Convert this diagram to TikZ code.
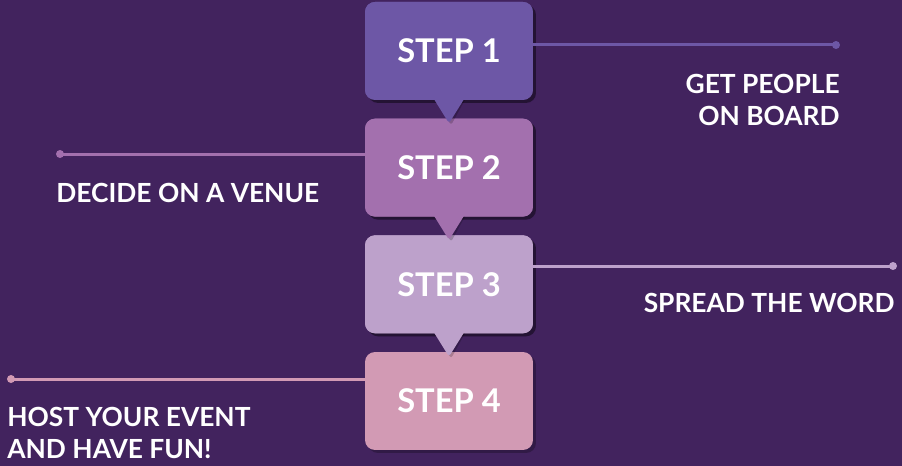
\documentclass[tikz,border=0pt]{standalone}
\usepackage{fontspec}
\setmainfont{Lato}
\usetikzlibrary{positioning,shadows}

\definecolor{bgpurple}{HTML}{42235E}
\definecolor{stepone}{HTML}{6D57A6}
\definecolor{steptwo}{HTML}{A370AE}
\definecolor{stepthree}{HTML}{BDA1CB}
\definecolor{stepfour}{HTML}{D29AB4}

\tikzset{
  stepbox/.style={fill=#1, rounded corners=0.2cm, minimum width=3.36cm,
    minimum height=1.96cm, inner sep=0pt, text=white,
    font=\fontsize{18.6}{20}\selectfont\bfseries,
    drop shadow={shadow xshift=0.06cm, shadow yshift=-0.06cm, opacity=0.25, fill=black}},
  steptext/.style={text=white, inner sep=0pt,
    font=\fontsize{15}{18.2}\selectfont\bfseries},
  conn/.style={line width=0.06cm}
}

% pointer below a step box: #1 node, #2 colour
\newcommand{\tipdown}[2]{
  \fill[black, opacity=0.2, rounded corners=0.06cm]
    (#1.south) ++(-15,-6) -- ++(17,31) -- ++(17,-31) -- cycle;
}
\newcommand{\tipfill}[2]{
  \fill[#2, rounded corners=0.06cm]
    (#1.south) ++(-18,-6) -- ++(18,29) -- ++(18,-29) -- cycle;
}

\begin{document}
\begin{tikzpicture}[x=0.02cm, y=-0.02cm]
    % background
    \fill[bgpurple] (0,0) rectangle (902,466);
    \useasboundingbox (0,0) rectangle (902,466);

    % connector lines with end dots
    \coordinate (dot1) at (836,45);
    \coordinate (dot2) at (60,154);
    \coordinate (dot3) at (893,266);
    \coordinate (dot4) at (11,379);

    % step 4 (bottom) first, the others stack upwards
    \node[stepbox=stepfour] (step4) at (449,401) {STEP 4};
    \draw[conn, stepfour] (step4.west |- dot4) -- (dot4);
    \fill[stepfour] (dot4) circle (0.08cm);

    \node[stepbox=stepthree, above=0.36cm of step4] (step3) {};
    \tipdown{step3}{stepthree}
    \node[stepbox=stepthree] at (step3) {STEP 3};
    \tipfill{step3}{stepthree}
    \draw[conn, stepthree] (step3.east |- dot3) -- (dot3);
    \fill[stepthree] (dot3) circle (0.08cm);

    \node[stepbox=steptwo, above=0.36cm of step3] (step2) {};
    \tipdown{step2}{steptwo}
    \node[stepbox=steptwo] at (step2) {STEP 2};
    \tipfill{step2}{steptwo}
    \draw[conn, steptwo] (step2.west |- dot2) -- (dot2);
    \fill[steptwo] (dot2) circle (0.08cm);

    \node[stepbox=stepone, above=0.36cm of step2] (step1) {};
    \tipdown{step1}{stepone}
    \node[stepbox=stepone] at (step1) {STEP 1};
    \tipfill{step1}{stepone}
    \draw[conn, stepone] (step1.east |- dot1) -- (dot1);
    \fill[stepone] (dot1) circle (0.08cm);

    % labels
    \node[steptext, anchor=east, align=right] (lab1) at (840,100) {GET PEOPLE\\ON BOARD};
    \node[steptext, anchor=west] (lab2) at (56,193) {DECIDE ON A VENUE};
    \node[steptext, anchor=east] (lab3) at (895,303) {SPREAD THE WORD};
    \node[steptext, anchor=west, align=left] (lab4) at (7,433) {HOST YOUR EVENT\\AND HAVE FUN!};
\end{tikzpicture}
\end{document}
